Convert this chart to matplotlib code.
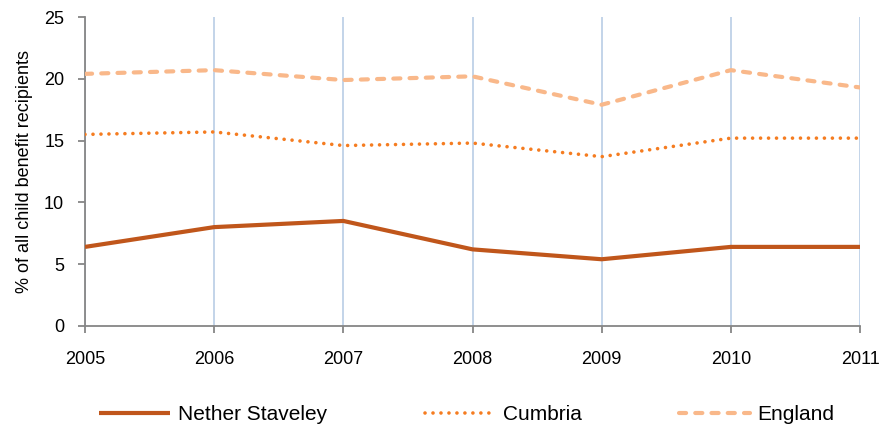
"""Child benefit recipients share, Nether Staveley vs Cumbria vs England."""
import matplotlib
matplotlib.use("Agg")
import matplotlib.pyplot as plt

plt.rcParams["font.family"] = ["Liberation Sans", "DejaVu Sans"]

years = [2005, 2006, 2007, 2008, 2009, 2010, 2011]
nether_staveley = [6.4, 8.0, 8.5, 6.2, 5.4, 6.4, 6.4]
cumbria = [15.5, 15.7, 14.6, 14.8, 13.7, 15.2, 15.2]
england = [20.4, 20.7, 19.9, 20.2, 17.9, 20.7, 19.3]

fig = plt.figure(figsize=(8.85, 4.29), dpi=100)
ax = fig.add_axes([85 / 885, 1 - 326 / 429, 775 / 885, 309 / 429])

ax.plot(years, nether_staveley, color="#c0561b", lw=3.0, solid_capstyle="butt",
        label="Nether Staveley", zorder=3)
ax.plot(years, cumbria, color="#f57c20", lw=2.6, linestyle=(0, (0.01, 2.2)),
        dash_capstyle="round", label="Cumbria", zorder=3)
ax.plot(years, england, color="#f9b88a", lw=3.0, linestyle=(0, (1.7, 2.2)),
        dash_capstyle="round", label="England", zorder=3)

ax.set_xlim(2005, 2011)
ax.set_ylim(0, 25)
ax.set_xticks(years)
ax.set_yticks(range(0, 26, 5))
ax.xaxis.grid(True, color="#b9cde5", lw=1.2)
ax.set_axisbelow(True)

for side in ("top", "right"):
    ax.spines[side].set_visible(False)
for side in ("left", "bottom"):
    ax.spines[side].set_color("#868686")
    ax.spines[side].set_linewidth(1.3)
ax.tick_params(axis="both", direction="out", length=5, width=1.3, color="#868686",
               labelsize=13, labelcolor="black")
ax.tick_params(axis="x", pad=13)
ax.tick_params(axis="y", pad=10)
ax.set_ylabel("% of all child benefit recipients", fontsize=13, labelpad=8)

fig.legend(loc="center", bbox_to_anchor=(467 / 885, 14 / 429), ncol=3, frameon=False,
           fontsize=15, handlelength=3.4, columnspacing=4.7, handletextpad=0.35)

fig.savefig("out.png", dpi=100)
